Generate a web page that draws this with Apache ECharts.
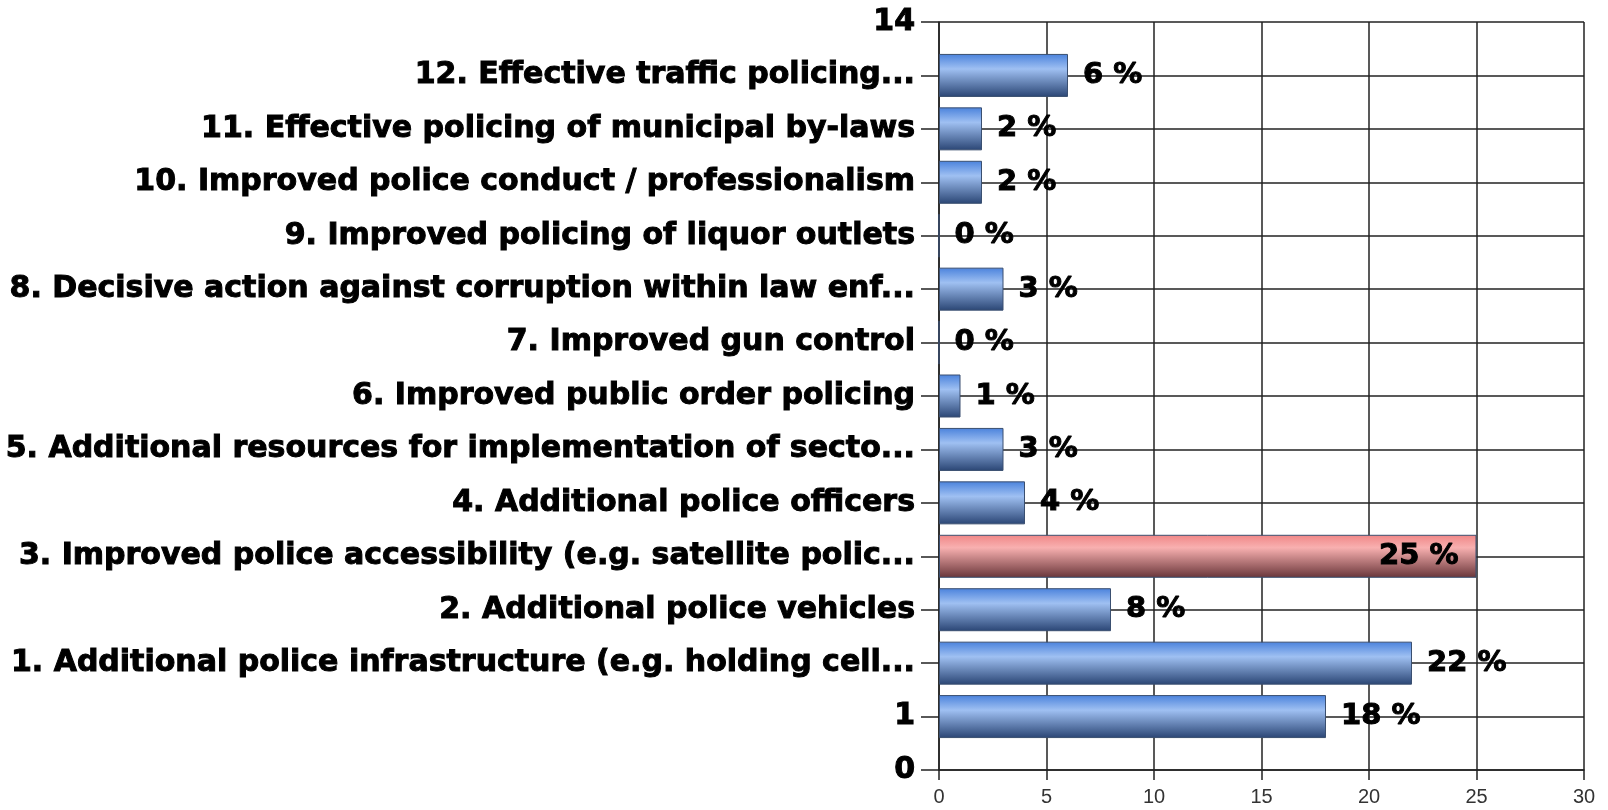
<!DOCTYPE html>
<html>
<head>
<meta charset="utf-8">
<script src="https://cdn.jsdelivr.net/npm/echarts@6/dist/echarts.min.js"></script>
<style>
	html, body { margin: 0; padding: 0; background: #fff; }
	#chart { width: 1608px; height: 810px; }
</style>
</head>
<body>
<div id="chart"></div>
<script>
// 纵轴刻度文字（自下而上，0..14）
const yLabels = [
	"0",
	"1",
	"1. Additional police infrastructure (e.g. holding cell...",
	"2. Additional police vehicles",
	"3. Improved police accessibility (e.g. satellite polic...",
	"4. Additional police officers",
	"5. Additional resources for implementation of secto...",
	"6. Improved public order policing",
	"7. Improved gun control",
	"8. Decisive action against corruption within law enf...",
	"9. Improved policing of liquor outlets",
	"10. Improved police conduct / professionalism",
	"11. Effective policing of municipal by-laws",
	"12. Effective traffic policing...",
	"14",
];
// 百分比（与 yLabels 对应，'-' 表示无柱）
const values = ["-", 18, 22, 8, 25, 4, 3, 1, 0, 3, 0, 2, 2, 6, "-"];
// 高亮的柱子（下标）
const highlightIndex = 4;
const xTicks = { min: 0, max: 30, interval: 5 };

const chart = echarts.init(document.getElementById("chart"));

const blue = new echarts.graphic.LinearGradient(0, 0, 0, 1, [
	{ offset: 0, color: "#4a82dc" },
	{ offset: 0.35, color: "#9fc0f2" },
	{ offset: 1, color: "#2a4574" },
]);
const red = new echarts.graphic.LinearGradient(0, 0, 0, 1, [
	{ offset: 0, color: "#f08686" },
	{ offset: 0.3, color: "#f8b0b0" },
	{ offset: 1, color: "#683539" },
]);

const seriesData = values.map(function(v, i) {
	if (i === highlightIndex) {
		return {
			value: v,
			itemStyle: { color: red },
			label: { position: "insideRight", distance: 18 },
		};
	}
	return v;
});

const option = {
	animation: false,
	grid: {
		left: 939,
		right: 24,
		top: 22,
		bottom: 40,
		containLabel: false,
	},
	xAxis: {
		type: "value",
		min: xTicks.min,
		max: xTicks.max,
		interval: xTicks.interval,
		axisLine: { show: true, lineStyle: { color: "#222", width: 1.5 } },
		axisTick: { show: true, length: 10, lineStyle: { color: "#222", width: 1.5 } },
		splitLine: { show: true, lineStyle: { color: "#222", width: 1.5 } },
		axisLabel: {
			color: "#333",
			fontSize: 20,
			fontFamily: "Liberation Sans Narrow, Liberation Sans, sans-serif",
			margin: 17,
		},
	},
	yAxis: {
		type: "category",
		data: yLabels,
		boundaryGap: false,
		axisLine: { show: true, lineStyle: { color: "#222", width: 1.5 } },
		axisTick: { show: true, length: 18, interval: 0, lineStyle: { color: "#222", width: 1.5 } },
		splitLine: { show: true, interval: 0, lineStyle: { color: "#222", width: 1.5 } },
		axisLabel: {
			interval: 0,
			color: "#000",
			fontSize: 30,
			fontWeight: "bold",
			fontFamily: "DejaVu Sans, sans-serif",
			textBorderColor: "#000",
			textBorderWidth: 1,
			margin: 24,
		},
	},
	series: [
		{
			type: "bar",
			barWidth: 43,
			data: seriesData,
			itemStyle: {
				color: blue,
				borderColor: "#3a4f70",
				borderWidth: 1,
			},
			label: {
				show: true,
				position: "right",
				distance: 15,
				formatter: "{c} %",
				color: "#000",
				fontSize: 29,
				fontWeight: "bold",
				fontFamily: "DejaVu Sans, sans-serif",
				textBorderColor: "#000",
				textBorderWidth: 1,
			},
		},
	],
};
chart.setOption(option);
</script>
</body>
</html>
